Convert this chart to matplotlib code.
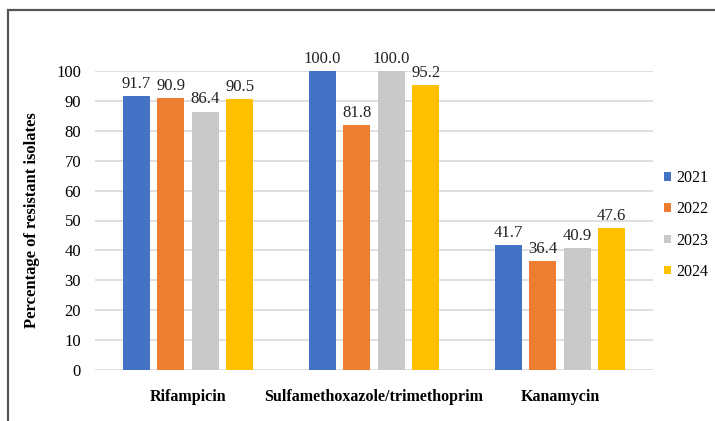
import numpy as np
import matplotlib.pyplot as plt
from matplotlib.patches import Rectangle

plt.rcParams['font.family'] = ['Liberation Serif', 'DejaVu Serif']

# Resistance percentages by antibiotic and year
drugs = ['Rifampicin', 'Sulfamethoxazole/trimethoprim', 'Kanamycin']
years = ['2021', '2022', '2023', '2024']
pct_2021 = [91.7, 100.0, 41.7]
pct_2022 = [90.9, 81.8, 36.4]
pct_2023 = [86.4, 100.0, 40.9]
pct_2024 = [90.5, 95.2, 47.6]
colors = ['#4472C4', '#ED7D31', '#C9C9C9', '#FFC000']

series = [pct_2021, pct_2022, pct_2023, pct_2024]

fig = plt.figure(figsize=(7.15, 4.21), dpi=100)
ax = fig.add_axes([95 / 715, 51 / 421, 558 / 715, 299 / 421])

x = np.arange(len(drugs))
step = 0.185
width = 0.145
for i, (vals, yr, c) in enumerate(zip(series, years, colors)):
    pos = x + (i - 1.5) * step
    bars = ax.bar(pos, vals, width, color=c, label=yr, zorder=3)
    for b, v in zip(bars, vals):
        ax.annotate(f'{v:.1f}', (b.get_x() + b.get_width() / 2, v),
                    xytext=(0, 3), textcoords='offset points',
                    ha='center', va='bottom', fontsize=12, color='#222222',
                    annotation_clip=False)

ax.set_xlim(-0.5, 2.5)
ax.set_ylim(0, 100)
ax.set_yticks(range(0, 101, 10))
ax.set_xticks(x)
ax.set_xticklabels(drugs, fontweight='bold', fontsize=11.5)
ax.tick_params(axis='x', length=0, pad=14)
ax.tick_params(axis='y', length=0, pad=10, labelsize=12)
ax.yaxis.grid(True, color='#D9D9D9', linewidth=1.2, zorder=0)
for s in ax.spines.values():
    s.set_visible(False)
ax.set_ylabel('Percentage of resistant isolates', fontweight='bold',
              fontsize=12, labelpad=12)

handles, labels = ax.get_legend_handles_labels()
fig.legend(handles, labels, loc='center left',
           bbox_to_anchor=(664 / 715, 1 - 225 / 421), frameon=False,
           fontsize=11.5, handlelength=0.45, handleheight=0.45,
           handletextpad=0.3, labelspacing=0.95, borderpad=0,
           borderaxespad=0)

# outer frame around the figure
fig.add_artist(Rectangle((8 / 715, -0.05), 1.1, (421 - 10) / 421 + 0.05,
                         transform=fig.transFigure, fill=False,
                         edgecolor='#555555', linewidth=1.6))

fig.savefig('out.png', dpi=100)
